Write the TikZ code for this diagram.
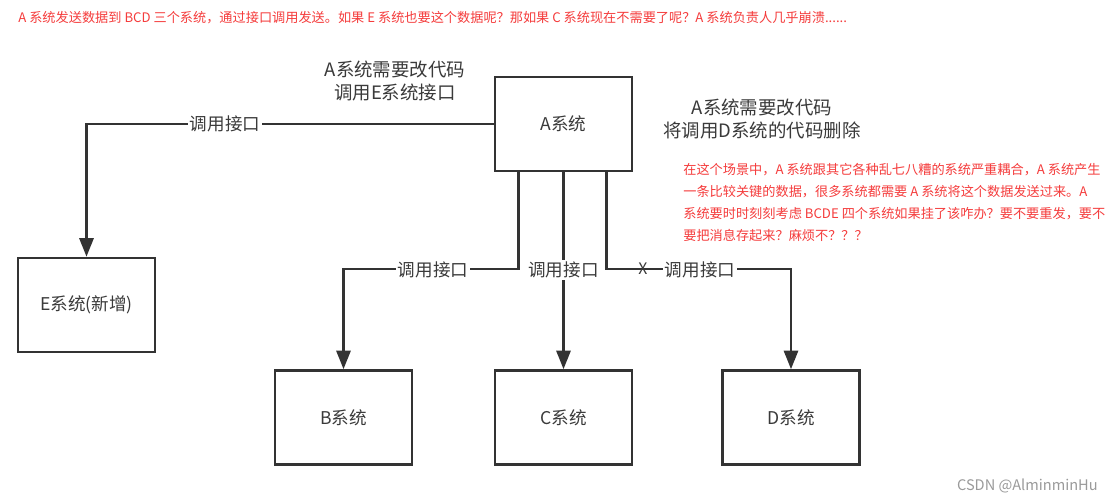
\documentclass[tikz,border=0pt]{standalone}
\usepackage{fontspec}
\setmainfont{Noto Sans CJK SC}
\usetikzlibrary{arrows.meta,calc}
\definecolor{ln}{HTML}{333333}
\definecolor{txt}{HTML}{3A3A3A}
\definecolor{red}{HTML}{F53C3C}
\definecolor{wm}{HTML}{9A9A9A}
\tikzset{
  sysbox/.style={draw=ln,line width=1.5pt,fill=white,minimum width=2.74cm,minimum height=1.88cm,inner sep=0pt,text=txt,font=\fontsize{10pt}{11pt}\selectfont},
  wire/.style={draw=ln,line width=1.4pt},
  arr/.style={wire,-{Triangle[width=8pt,length=10.5pt]}},
  lbl/.style={fill=white,inner sep=1pt,text=txt,font=\fontsize{10pt}{11pt}\selectfont},
  note/.style={text=txt,align=center,font=\fontsize{10.5pt}{13.3pt}\selectfont},
  rednote/.style={text=red,align=left,font=\fontsize{7.5pt}{12.5pt}\selectfont,inner sep=0pt},
}
\begin{document}
\begin{tikzpicture}[x=0.02cm,y=-0.02cm]
\useasboundingbox[fill=white] (0,0) rectangle (1112,502);
% boxes
\node[sysbox] (A) at (563.5,124) {A系统};
\node[sysbox] (E) at (86.5,305) {E系统(新增)};
\node[sysbox] (B) at (343.5,417.5) {B系统};
\node[sysbox] (C) at (563.5,417.5) {C系统};
\node[sysbox] (D) at (791,417.5) {D系统};
% connectors
\draw[arr] (A.west) -| (E.north);
\draw[arr] ($(A.south west)+(25,0)$) |- ($(B.north)+(0,-100)$) -- (B.north);
\draw[arr] (A.south -| C.north) -- (C.north);
\draw[arr] ($(A.south east)+(-27,0)$) |- ($(D.north)+(0,-100)$) -- (D.north);
% labels on connectors
\node[lbl] (l1) at (225,124) {调用接口};
\node[lbl] (l2) at (433,270) {调用接口};
\node[lbl] (l3) at (563.5,270) {调用接口};
\node[text=txt,inner sep=0pt,font=\fontsize{9pt}{10pt}\selectfont] (x) at (643,268.5) {X};
\node[lbl] (l4) at (700,270) {调用接口};
% notes
\node[note] (n1) at (395,81) {A系统需要改代码\\调用E系统接口};
\node[note] (n2) at (762,119) {A系统需要改代码\\将调用D系统的代码删除};
\node[rednote,anchor=west] (top) at (18,18) {A 系统发送数据到 BCD 三个系统，通过接口调用发送。如果 E 系统也要这个数据呢？那如果 C 系统现在不需要了呢？A 系统负责人几乎崩溃......};
\node[rednote,anchor=north west] (n3) at (683,163) {在这个场景中，A 系统跟其它各种乱七八糟的系统严重耦合，A 系统产生\\一条比较关键的数据，很多系统都需要 A 系统将这个数据发送过来。A\\系统要时时刻刻考虑 BCDE 四个系统如果挂了该咋办？要不要重发，要不\\要把消息存起来？麻烦不？？？};
\node[text=wm,anchor=east,font=\fontsize{8.3pt}{9pt}\selectfont,inner sep=0pt] (wm) at (1098,486) {CSDN @AlminminHu};
\end{tikzpicture}
\end{document}
